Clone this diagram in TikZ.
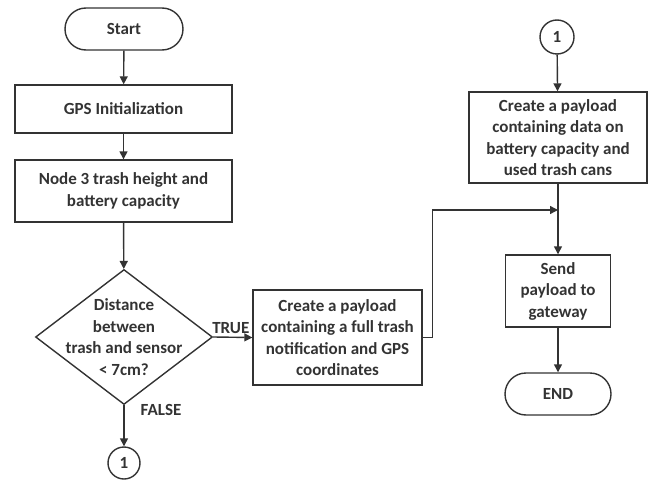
\documentclass[tikz,border=0pt]{standalone}
\usepackage{fontspec}
\setmainfont{Carlito}
\usetikzlibrary{shapes.geometric,arrows.meta}
\begin{document}
\begin{tikzpicture}[x=1pt,y=-1pt,
  font=\bfseries\fontsize{17}{21.5}\selectfont,
  line width=1.4pt,
  every node/.style={text=black!80},
  stepbox/.style={draw=black!80, rectangle, align=center, inner sep=0pt},
  term/.style={draw=black!80, rectangle, rounded corners=21pt, inner sep=0pt, minimum width=#1, minimum height=42pt},
  conn/.style={draw=black!80, circle, inner sep=0pt, minimum size=#1},
  flow/.style={draw=black!80, -{Triangle[length=8pt,width=8pt]}},
  plain/.style={draw=black!80}]
\useasboundingbox (0,0) rectangle (653,484);

% left column
\node[term=118pt] (start) at (124,29) {Start};
\node[stepbox, minimum width=217pt, minimum height=48pt] (gps) at (123.5,109) {GPS Initialization};
\node[stepbox, minimum width=217pt, minimum height=62pt] (node3) at (123.5,191) {Node 3 trash height and\\battery capacity};
\node[draw=black!80, diamond, inner sep=0pt, minimum width=177pt, minimum height=135pt] (dec) at (124,337) {};
\node[align=center, inner sep=0pt] (dectext) at (dec.center) {Distance\\between\\trash and sensor\\< 7cm?};
\node[conn=32pt] (c1) at (124,463) {1};

% middle
\node[stepbox, minimum width=169pt, minimum height=95pt] (pay) at (337.5,337.5) {Create a payload\\containing a full trash\\notification and GPS\\coordinates};

% right column
\node[conn=34pt] (c2) at (557,37) {1};
\node[stepbox, minimum width=178pt, minimum height=91pt] (rbox) at (558,137.5) {Create a payload\\containing data on\\battery capacity and\\used trash cans};
\node[stepbox, minimum width=105pt, minimum height=72pt] (send) at (558,291) {Send\\payload to\\gateway};
\node[term=106pt] (end) at (558,394) {END};

\coordinate (join) at (558,210);

% connectors
\draw[flow] (start) -- (gps);
\draw[flow] (gps) -- (node3);
\draw[flow] (node3) -- (dec);
\draw[flow] (dec.east) -- node[above, pos=0.45, inner sep=3pt] (ttrue) {TRUE} (pay.west);
\draw[flow] (dec.south) -- node[right, pos=0.12, inner sep=16pt] (tfalse) {FALSE} (c1);
\draw[flow] (c2) -- (rbox);
\draw[plain] (rbox.south) -- (join);
\draw[flow] (join) -- (send);
\draw[flow] (pay.east) -- ++(10,0) |- (join);
\draw[flow] (send) -- (end);
\end{tikzpicture}
\end{document}
